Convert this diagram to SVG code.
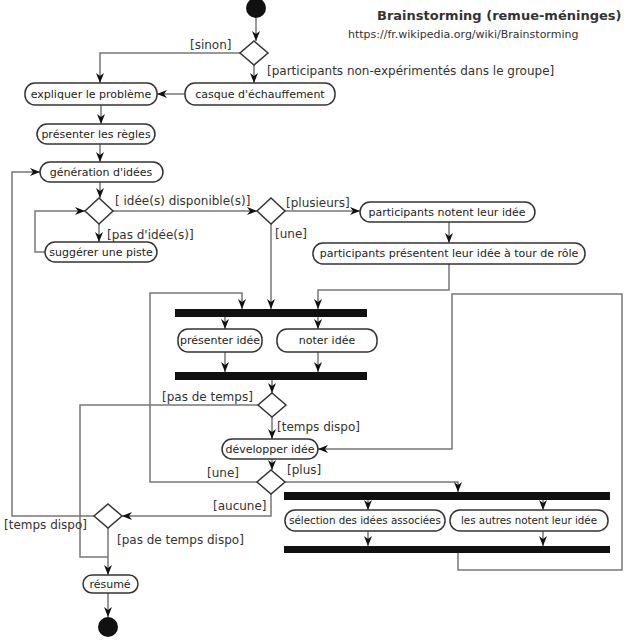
<svg xmlns="http://www.w3.org/2000/svg" width="640" height="640" viewBox="0 0 640 640">
<style>
.n rect{fill:#ffffff;stroke:#333;stroke-width:1.5}
.n text{font-family:"DejaVu Sans",sans-serif;font-size:11px;fill:#222;text-anchor:middle}
.n text.s{font-size:10.3px}
.d polygon{fill:#fff;stroke:#333;stroke-width:1.5}
.bar rect{fill:#111}
.c path{fill:none;stroke:#777;stroke-width:1.5}
.c path.a{marker-end:url(#ah)}
.lbl{font-family:"DejaVu Sans",sans-serif;font-size:12px;fill:#333}
.ttl{font-family:"DejaVu Sans",sans-serif;font-size:13px;font-weight:bold;fill:#333}
.sub{font-family:"DejaVu Sans",sans-serif;font-size:11px;fill:#333}
</style>
<defs>
<marker id="ah" markerUnits="userSpaceOnUse" markerWidth="10" markerHeight="10" viewBox="0 0 10 10" refX="10" refY="5" orient="auto">
<path d="M0,1 L10,5 L0,9 L3,5 z" fill="#111"/>
</marker>
</defs>
<rect width="640" height="640" fill="#fff"/>
<text class="ttl" x="377" y="20">Brainstorming (remue-méninges)</text>
<text class="sub" x="348" y="38">https://fr.wikipedia.org/wiki/Brainstorming</text>

<g class="c" id="connectors">
<path class="a" d="M256,18 L256,41"/>
<path class="a" d="M240,53 L100,53 L100,83"/>
<path class="a" d="M254,65 L254,83"/>
<path class="a" d="M185,94 L157,94"/>
<path class="a" d="M101,105 L101,124"/>
<path class="a" d="M100,144 L100,162"/>
<path class="a" d="M100,182 L100,198"/>
<path class="a" d="M113,211 L257,211"/>
<path class="a" d="M99,224 L99,242"/>
<path class="a" d="M45,252 L35,252 L35,211 L85,211"/>
<path class="a" d="M285,211 L360,211"/>
<path class="a" d="M449,222 L449,243"/>
<path class="a" d="M449,264 L449,290 L318,290 L318,309"/>
<path class="a" d="M271,224 L271,309"/>
<path class="a" d="M258,482 L150,482 L150,293 L242,293 L242,309"/>
<path class="a" d="M225,317 L225,329"/>
<path class="a" d="M318,317 L318,329"/>
<path class="a" d="M225,352 L225,372"/>
<path class="a" d="M318,352 L318,372"/>
<path class="a" d="M272,380 L272,393"/>
<path d="M258,405 L80,405 L80,557 L108,557"/>
<path class="a" d="M272,417 L272,439"/>
<path class="a" d="M272,459 L272,470"/>
<path class="a" d="M285,482 L458,482 L458,492"/>
<path class="a" d="M368,500 L368,510"/>
<path class="a" d="M543,500 L543,510"/>
<path class="a" d="M368,531 L368,546"/>
<path class="a" d="M543,531 L543,546"/>
<path class="a" d="M458,553 L458,570 L622,570 L622,294 L452,294 L452,449 L318,449"/>
<path class="a" d="M271,494 L271,516 L122,516"/>
<path class="a" d="M94,516 L12,516 L12,172 L40,172"/>
<path class="a" d="M108,528 L108,575"/>
<path class="a" d="M108,593 L108,617"/>
</g>

<g id="labels">
<text class="lbl" x="190" y="49">[sinon]</text>
<text class="lbl" x="267" y="75">[participants non-expérimentés dans le groupe]</text>
<text class="lbl" x="115" y="205">[ idée(s) disponible(s)]</text>
<text class="lbl" x="107" y="239">[pas d'idée(s)]</text>
<text class="lbl" x="286" y="207">[plusieurs]</text>
<text class="lbl" x="275" y="238">[une]</text>
<text class="lbl" x="162" y="401">[pas de temps]</text>
<text class="lbl" x="277" y="431">[temps dispo]</text>
<text class="lbl" x="207" y="477">[une]</text>
<text class="lbl" x="287" y="474">[plus]</text>
<text class="lbl" x="213" y="510">[aucune]</text>
<text class="lbl" x="4" y="529">[temps dispo]</text>
<text class="lbl" x="117" y="544">[pas de temps dispo]</text>
</g>

<g id="start"><circle cx="256" cy="8" r="10" fill="#111"/></g>
<g id="end"><circle cx="108" cy="627" r="10" fill="#111"/></g>

<g id="d1" class="d"><polygon points="254,41 268,53 254,65 240,53"/></g>
<g id="d2" class="d"><polygon points="99,198 113,211 99,224 85,211"/></g>
<g id="d3" class="d"><polygon points="271,198 285,211 271,224 257,211"/></g>
<g id="d4" class="d"><polygon points="272,393 286,405 272,417 258,405"/></g>
<g id="d5" class="d"><polygon points="271,470 285,482 271,494 257,482"/></g>
<g id="d6" class="d"><polygon points="108,504 122,516 108,528 94,516"/></g>

<g id="expliquer" class="n"><rect x="25" y="83" width="132" height="22" rx="10"/><text x="91" y="98">expliquer le problème</text></g>
<g id="casque" class="n"><rect x="185" y="83" width="150" height="22" rx="10"/><text x="260" y="98">casque d'échauffement</text></g>
<g id="regles" class="n"><rect x="37" y="124" width="118" height="20" rx="10"/><text x="96" y="138">présenter les règles</text></g>
<g id="generation" class="n"><rect x="40" y="162" width="123" height="20" rx="10"/><text x="101" y="176">génération d'idées</text></g>
<g id="suggerer" class="n"><rect x="45" y="242" width="112" height="20" rx="10"/><text x="101" y="256">suggérer une piste</text></g>
<g id="notent" class="n"><rect x="360" y="202" width="175" height="20" rx="10"/><text x="447" y="216">participants notent leur idée</text></g>
<g id="presentent" class="n"><rect x="313" y="243" width="272" height="21" rx="10"/><text x="449" y="257">participants présentent leur idée à tour de rôle</text></g>
<g id="presenter" class="n"><rect x="178" y="329" width="84" height="23" rx="10"/><text x="220" y="344">présenter idée</text></g>
<g id="noter" class="n"><rect x="277" y="329" width="100" height="23" rx="10"/><text x="327" y="344">noter idée</text></g>
<g id="developper" class="n"><rect x="222" y="439" width="96" height="20" rx="10"/><text x="270" y="453">développer idée</text></g>
<g id="selection" class="n"><rect x="285" y="510" width="160" height="21" rx="10"/><text class="s" x="365" y="524">sélection des idées associées</text></g>
<g id="autres" class="n"><rect x="450" y="510" width="158" height="21" rx="10"/><text class="s" x="529" y="524">les autres notent leur idée</text></g>
<g id="resume" class="n"><rect x="83" y="575" width="55" height="18" rx="9"/><text x="110" y="588">résumé</text></g>

<g id="fork1" class="bar"><rect x="175" y="309" width="192" height="8"/></g>
<g id="join1" class="bar"><rect x="175" y="372" width="192" height="8"/></g>
<g id="fork2" class="bar"><rect x="284" y="492" width="326" height="8"/></g>
<g id="join2" class="bar"><rect x="284" y="546" width="326" height="7"/></g>
</svg>
